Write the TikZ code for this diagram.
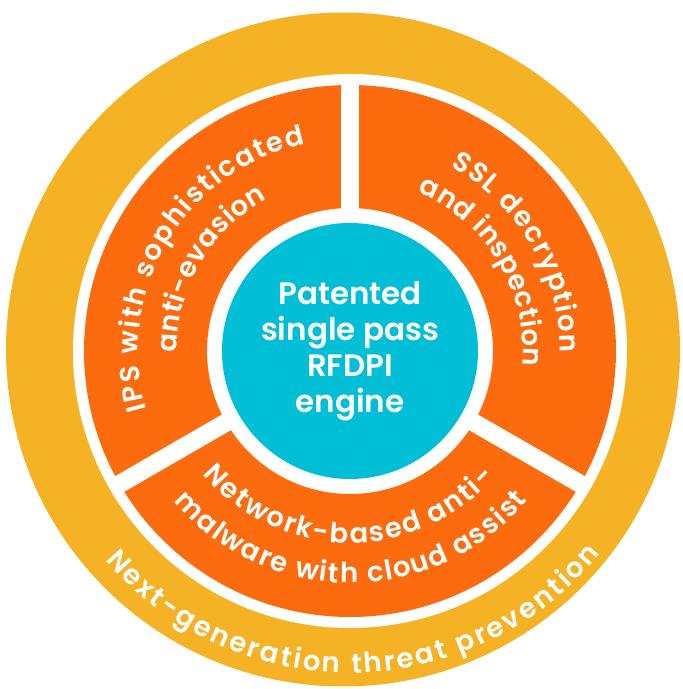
\documentclass[tikz,border=0pt]{standalone}
\usepackage{fontspec}
\setmainfont{Poppins}[BoldFont={Poppins SemiBold}]
\usetikzlibrary{decorations.text}
\definecolor{ringyellow}{HTML}{F5B224}
\definecolor{segorange}{HTML}{FC6C0F}
\definecolor{corecyan}{HTML}{00BED6}
\newcommand\segfont{\fontsize{27.5}{32}\selectfont\bfseries}
\newcommand\corefont{\fontsize{31}{36}\selectfont\bfseries}
\tikzset{
  curvetext/.style={decorate, decoration={text along path, text align={fit to path}, text color=white, text={#1}}},
  coretext/.style={text=white, anchor=base, font=\corefont, inner sep=0pt}
}
\begin{document}
\begin{tikzpicture}[x=1pt,y=1pt]
\useasboundingbox (0,0) rectangle (683,689);
\coordinate (C) at (350,338);
\coordinate (O) at (343,339.5);
% rings
\fill[ringyellow] (O) circle[radius=337pt];
\fill[white] (C) circle[radius=277pt];
\fill[segorange, even odd rule] (C) circle[radius=266pt] (C) circle[radius=143pt];
\foreach \a in {90,210,330} \draw[white, line width=18pt] (C) -- ++(\a:272pt);
\fill[corecyan] (C) circle[radius=128pt];
% core text
\node[coretext] (t1) at (350,384) {Patented};
\node[coretext] (t2) at (350,348) {single pass};
\node[coretext] (t3) at (350,312) {RFDPI};
\node[coretext] (t4) at (350,276) {engine};
% left segment
\path[curvetext={|\segfont|IPS with sophisticated}] (C) ++(196:212pt) arc[start angle=196, end angle=102, radius=212pt];
\path[curvetext={|\segfont|anti-evasion}] (C) ++(180.5:173pt) arc[start angle=180.5, end angle=118.5, radius=173pt];
% right segment
\path[curvetext={|\segfont|SSL decryption}] (C) ++(61.5:210pt) arc[start angle=61.5, end angle=-0.5, radius=210pt];
\path[curvetext={|\segfont|and inspection}] (C) ++(67:173pt) arc[start angle=67, end angle=-5, radius=173pt];
% bottom segment
\path[curvetext={|\segfont|Network-based anti-}] (C) ++(220:192pt) arc[start angle=220, end angle=319, radius=192pt];
\path[curvetext={|\segfont|malware with cloud assist}] (C) ++(220.5:232pt) arc[start angle=220.5, end angle=320, radius=232pt];
% outer ring text
\path[curvetext={|\segfont|Next-generation threat prevention}] (C) ++(220.5:322pt) arc[start angle=220.5, end angle=321, radius=322pt];
\end{tikzpicture}
\end{document}
